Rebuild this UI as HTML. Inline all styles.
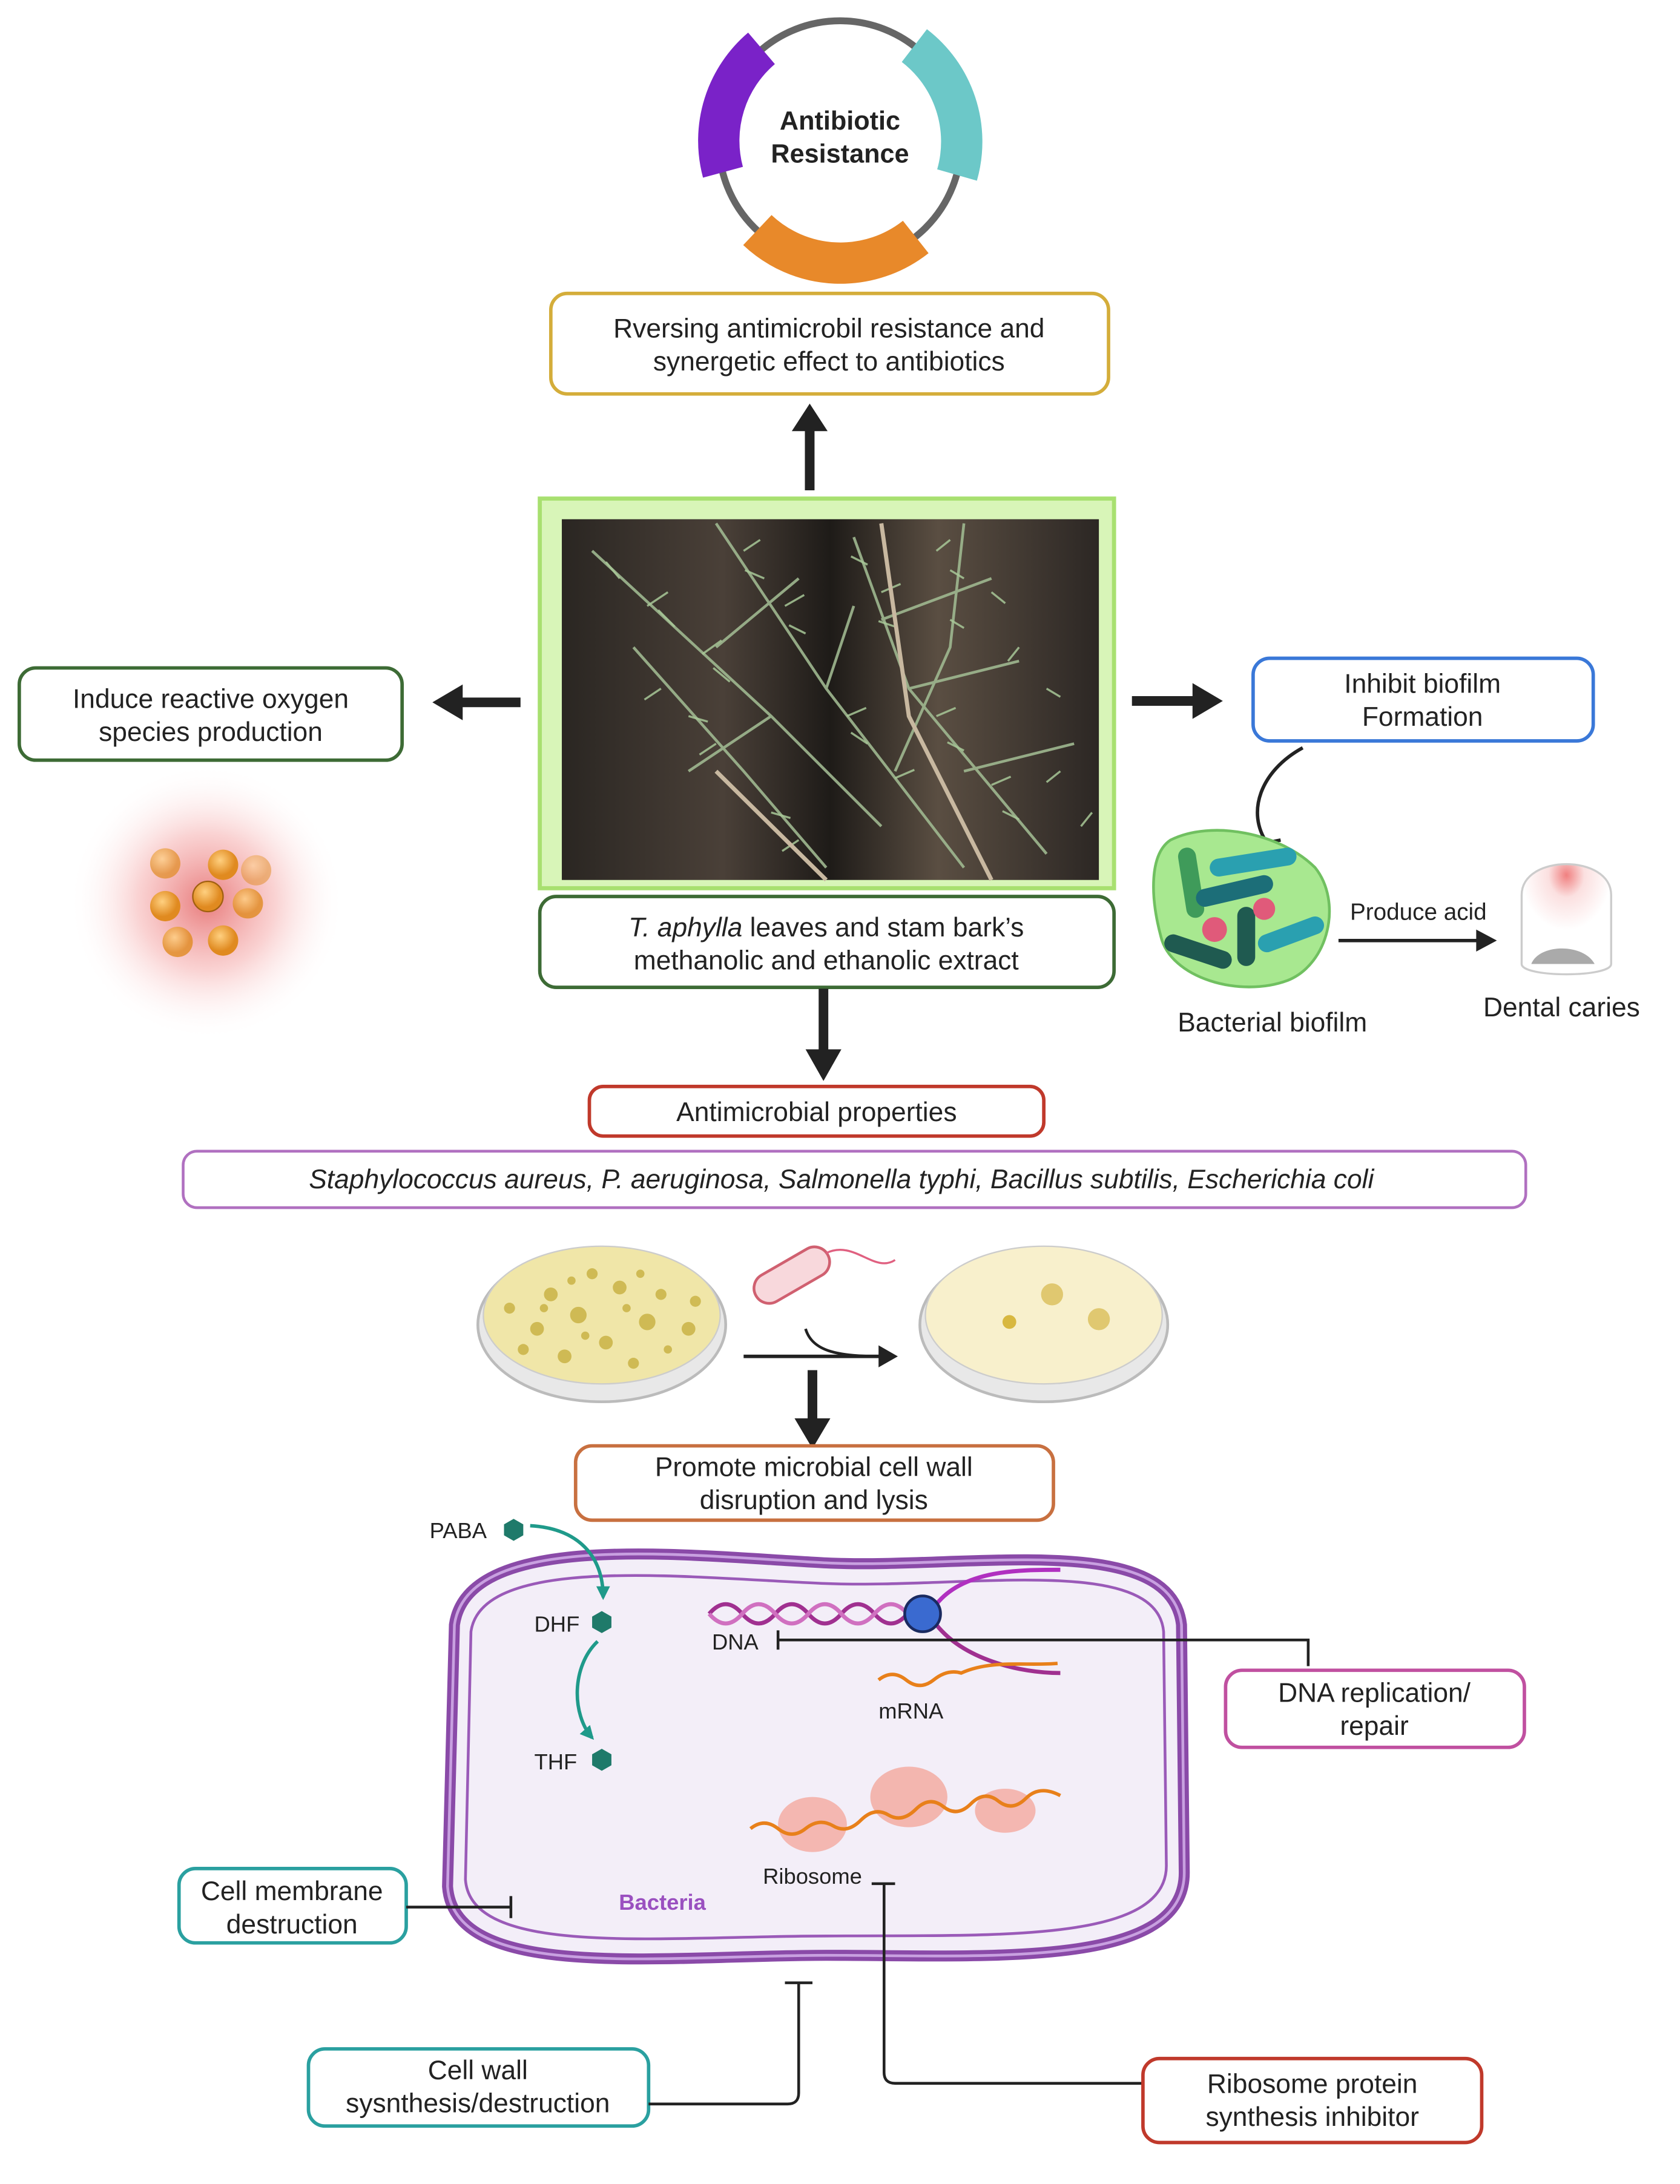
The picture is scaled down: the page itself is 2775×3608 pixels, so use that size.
<!DOCTYPE html>
<html><head><meta charset="utf-8"><style>
html,body{margin:0;padding:0;background:#fff}
svg{display:block}
text{font-family:"Liberation Sans",sans-serif;fill:#222}
</style></head><body>
<svg width="2775" height="3608" viewBox="0 0 1220 1586" xmlns="http://www.w3.org/2000/svg">
<defs>
<marker id="aht" markerWidth="10" markerHeight="10" refX="8" refY="5" orient="auto" markerUnits="userSpaceOnUse"><path d="M0,0 L10,5 L0,10 z" fill="#1f9a8a"/></marker>
<radialGradient id="glow"><stop offset="0" stop-color="#e05050" stop-opacity="0.75"/><stop offset="0.5" stop-color="#f08080" stop-opacity="0.35"/><stop offset="1" stop-color="#fff" stop-opacity="0"/></radialGradient>
<radialGradient id="ball" cx="0.4" cy="0.35"><stop offset="0" stop-color="#ffd080"/><stop offset="1" stop-color="#e08a20"/></radialGradient>
<linearGradient id="bark" x1="0" x2="1"><stop offset="0" stop-color="#2a2622"/><stop offset="0.3" stop-color="#4a4038"/><stop offset="0.5" stop-color="#1e1b18"/><stop offset="0.7" stop-color="#5a4e42"/><stop offset="1" stop-color="#2c2724"/></linearGradient>
<radialGradient id="tooth" cx="0.5" cy="0.1"><stop offset="0" stop-color="#f08080"/><stop offset="0.4" stop-color="#fbe0e0"/><stop offset="1" stop-color="#fff"/></radialGradient>
</defs>

<circle cx="610" cy="103" r="88" fill="none" stroke="#666" stroke-width="5"/>
<path d="M553,35 A88,88 0 0 0 525,125" fill="none" stroke="#7a22c8" stroke-width="30"/>
<path d="M664,33 A88,88 0 0 1 695,127" fill="none" stroke="#6cc8c8" stroke-width="30"/>
<path d="M550,167 A88,88 0 0 0 665,172" fill="none" stroke="#e8892a" stroke-width="30"/>
<text x="610" y="94" font-size="19" font-weight="bold" text-anchor="middle">Antibiotic</text>
<text x="610" y="118" font-size="19" font-weight="bold" text-anchor="middle">Resistance</text>

<g font-size="19.5">
<rect x="400" y="213" width="405" height="73" rx="12" fill="#fff" stroke="#d4ad3a" stroke-width="2.5"/>
<text x="602" y="245" text-anchor="middle">Rversing antimicrobil resistance and</text>
<text x="602" y="269" text-anchor="middle">synergetic effect to antibiotics</text>
</g>
<line x1="588" y1="356" x2="588" y2="305" stroke="#222" stroke-width="7"/>
<path d="M575,313 L588,293 L601,313 z" fill="#222"/>

<rect x="392" y="362" width="417" height="283" fill="#d8f5b8" stroke="#a8e070" stroke-width="3"/>
<rect x="408" y="377" width="390" height="262" fill="url(#bark)"/>
<g stroke="#9fb890" stroke-width="2" fill="none" opacity="0.9">
<path d="M430,400 L560,520 L640,600"/><path d="M520,380 L600,500 L700,630"/><path d="M620,390 L660,500 L760,620"/>
<path d="M700,380 L690,470 L650,560"/><path d="M460,470 L540,560 L600,630"/><path d="M580,420 L520,470"/><path d="M640,450 L720,420"/>
<path d="M560,520 L500,560"/><path d="M660,500 L740,480"/><path d="M600,500 L620,440"/><path d="M700,560 L780,540"/>
</g>
<g stroke="#a8c898" stroke-width="1.5" fill="none" opacity="0.85">
<path d="M450,420 l-10,-12 M470,440 l15,-10 M490,455 l-12,-12 M510,475 l14,-10 M530,495 l-12,-10"/>
<path d="M540,400 l12,-8 M555,420 l-14,-6 M570,440 l14,-8 M585,460 l-12,-6 M615,520 l14,-6 M630,540 l-12,-8 M650,565 l14,-6"/>
<path d="M630,410 l-12,-6 M640,430 l14,-6 M650,455 l-12,-4 M680,520 l14,-6 M700,545 l-12,-6 M720,570 l14,-6 M740,595 l-12,-6"/>
<path d="M480,500 l-12,8 M500,520 l14,4 M520,540 l-12,8 M560,590 l14,4 M580,610 l-12,8"/>
<path d="M720,430 l10,8 M740,470 l-8,10 M760,500 l10,6 M770,560 l-10,8 M785,600 l8,-10"/>
<path d="M680,400 l10,-8 M700,420 l-10,-6 M690,450 l10,6"/>
</g>
<g stroke="#c8b8a0" stroke-width="3" fill="none"><path d="M640,380 L660,520 L720,639"/><path d="M520,560 L600,639"/></g>

<g font-size="19.5">
<rect x="14" y="485" width="278" height="67" rx="12" fill="#fff" stroke="#3d6b35" stroke-width="2.5"/>
<text x="153" y="514" text-anchor="middle">Induce reactive oxygen</text>
<text x="153" y="538" text-anchor="middle">species production</text>
</g>
<line x1="378" y1="510" x2="330" y2="510" stroke="#222" stroke-width="7"/>
<path d="M336,497 L314,510 L336,523 z" fill="#222"/>
<circle cx="150" cy="655" r="100" fill="url(#glow)"/>
<g fill="url(#ball)">
<circle cx="120" cy="627" r="11" opacity="0.7"/><circle cx="162" cy="628" r="11"/><circle cx="186" cy="632" r="11" opacity="0.5"/>
<circle cx="120" cy="658" r="11"/><circle cx="151" cy="651" r="11" stroke="#a06010"/><circle cx="180" cy="656" r="11" opacity="0.8"/>
<circle cx="129" cy="684" r="11" opacity="0.8"/><circle cx="162" cy="683" r="11"/>
</g>

<line x1="822" y1="509" x2="870" y2="509" stroke="#222" stroke-width="7"/>
<path d="M866,496 L888,509 L866,522 z" fill="#222"/>
<g font-size="19.5">
<rect x="910" y="478" width="247" height="60" rx="12" fill="#fff" stroke="#3a78d8" stroke-width="2.5"/>
<text x="1033" y="503" text-anchor="middle">Inhibit biofilm</text>
<text x="1033" y="527" text-anchor="middle">Formation</text>
</g>
<path d="M946,543 C915,560 905,590 920,612" fill="none" stroke="#222" stroke-width="2.5"/>
<line x1="910" y1="614" x2="930" y2="610" stroke="#222" stroke-width="2.5"/>
<path d="M850,610 C880,595 930,605 955,630 C975,655 965,700 935,712 C900,725 850,710 843,680 C835,650 835,620 850,610z" fill="#a8e890" stroke="#70c060" stroke-width="2"/>
<g stroke-linecap="round" stroke-width="13" fill="none">
<line x1="862" y1="622" x2="868" y2="660" stroke="#3f9b5a"/><line x1="885" y1="630" x2="935" y2="622" stroke="#2aa0b0"/>
<line x1="875" y1="652" x2="918" y2="642" stroke="#1c6e78"/><line x1="852" y1="685" x2="888" y2="697" stroke="#1f5a50"/>
<line x1="905" y1="665" x2="905" y2="695" stroke="#1f5a50"/><line x1="920" y1="685" x2="955" y2="672" stroke="#2aa0b0"/>
</g>
<circle cx="882" cy="675" r="9" fill="#e05a7a"/><circle cx="918" cy="660" r="8" fill="#e05a7a"/>
<text x="1030" y="668" font-size="17" text-anchor="middle">Produce acid</text>
<line x1="972" y1="683" x2="1075" y2="683" stroke="#222" stroke-width="2.5"/>
<path d="M1072,675 L1087,683 L1072,691 z" fill="#222"/>
<path d="M1105,650 C1105,620 1170,620 1170,650 L1170,700 C1170,710 1105,710 1105,700 z" fill="url(#tooth)" stroke="#ccc" stroke-width="1.5"/>
<path d="M1112,700 C1118,685 1150,685 1158,700 z" fill="#aaa"/>
<text x="924" y="749" font-size="19.5" text-anchor="middle">Bacterial biofilm</text>
<text x="1134" y="738" font-size="19.5" text-anchor="middle">Dental caries</text>

<g font-size="19.5">
<rect x="392" y="651" width="417" height="66" rx="12" fill="#fff" stroke="#3d6b35" stroke-width="2.5"/>
<text x="600" y="680" text-anchor="middle"><tspan font-style="italic">T. aphylla</tspan> leaves and stam bark’s</text>
<text x="600" y="704" text-anchor="middle">methanolic   and ethanolic extract</text>
</g>
<line x1="598" y1="718" x2="598" y2="767" stroke="#222" stroke-width="7"/>
<path d="M585,762 L598,785 L611,762 z" fill="#222"/>

<rect x="428" y="789" width="330" height="36" rx="10" fill="#fff" stroke="#c0392b" stroke-width="2.5"/>
<text x="593" y="814" font-size="19.5" text-anchor="middle">Antimicrobial properties</text>
<rect x="133" y="836" width="975" height="41" rx="10" fill="#fff" stroke="#b070c0" stroke-width="2"/>
<text x="611" y="863" font-size="19.5" font-style="italic" text-anchor="middle">Staphylococcus aureus, P. aeruginosa, Salmonella typhi, Bacillus subtilis, Escherichia coli</text>

<ellipse cx="437" cy="962" rx="90" ry="56" fill="#e8e8e8" stroke="#bbb" stroke-width="2"/>
<ellipse cx="437" cy="955" rx="86" ry="50" fill="#f0e6a8" stroke="#ccc"/>
<g fill="#c8b040" opacity="0.8">
<circle cx="400" cy="940" r="5"/><circle cx="420" cy="955" r="6"/><circle cx="450" cy="935" r="5"/><circle cx="470" cy="960" r="6"/><circle cx="390" cy="965" r="5"/><circle cx="440" cy="975" r="5"/><circle cx="480" cy="940" r="4"/><circle cx="500" cy="965" r="5"/><circle cx="370" cy="950" r="4"/><circle cx="410" cy="985" r="5"/><circle cx="460" cy="990" r="4"/><circle cx="430" cy="925" r="4"/><circle cx="505" cy="945" r="4"/><circle cx="380" cy="980" r="4"/>
<circle cx="415" cy="930" r="3"/><circle cx="455" cy="950" r="3"/><circle cx="485" cy="980" r="3"/><circle cx="425" cy="970" r="3"/><circle cx="395" cy="950" r="3"/><circle cx="465" cy="925" r="3"/>
</g>
<ellipse cx="758" cy="962" rx="90" ry="56" fill="#e8e8e8" stroke="#bbb" stroke-width="2"/>
<ellipse cx="758" cy="955" rx="86" ry="50" fill="#f8f0cc" stroke="#ccc"/>
<circle cx="764" cy="940" r="8" fill="#e0c870"/><circle cx="798" cy="958" r="8" fill="#e0c870"/><circle cx="733" cy="960" r="5" fill="#d8b840"/>
<rect x="545" y="915" width="60" height="22" rx="11" transform="rotate(-30 575 926)" fill="#f8d8dc" stroke="#d06070" stroke-width="2"/>
<path d="M600,910 C620,900 635,925 650,915" fill="none" stroke="#e06080" stroke-width="1.5"/>
<path d="M585,965 C590,982 610,985 640,985" fill="none" stroke="#222" stroke-width="2"/>
<line x1="540" y1="985" x2="640" y2="985" stroke="#222" stroke-width="2.5"/>
<path d="M638,977 L652,985 L638,993 z" fill="#222"/>
<line x1="590" y1="995" x2="590" y2="1035" stroke="#222" stroke-width="7"/>
<path d="M577,1030 L590,1052 L603,1030 z" fill="#222"/>
<g font-size="19.5">
<rect x="418" y="1050" width="347" height="54" rx="12" fill="#fff" stroke="#c87040" stroke-width="2.5"/>
<text x="591" y="1072" text-anchor="middle">Promote microbial cell wall</text>
<text x="591" y="1096" text-anchor="middle">disruption and lysis</text>
</g>

<path d="M330,1180 C340,1110 500,1130 600,1135 C700,1140 850,1110 858,1180 L860,1360 C860,1430 720,1420 600,1420 C480,1420 330,1440 325,1370 z" fill="#f3eef8" stroke="#8a4aa8" stroke-width="8"/>
<path d="M330,1180 C340,1110 500,1130 600,1135 C700,1140 850,1110 858,1180 L860,1360 C860,1430 720,1420 600,1420 C480,1420 330,1440 325,1370 z" fill="none" stroke="#c8a0e0" stroke-width="2"/>
<path d="M342,1185 C350,1128 500,1146 600,1150 C700,1154 840,1128 845,1185 L847,1355 C847,1412 720,1405 600,1406 C480,1406 342,1422 338,1365 z" fill="none" stroke="#9a5ab8" stroke-width="2"/>

<text x="312" y="1117" font-size="16">PABA</text>
<path d="M373,1103 l7,4 v8 l-7,4 l-7,-4 v-8 z" fill="#1f7a6a"/>
<path d="M385,1108 C420,1110 438,1130 438,1160" fill="none" stroke="#1f9a8a" stroke-width="2.5" marker-end="url(#aht)"/>
<text x="388" y="1185" font-size="16">DHF</text>
<path d="M437,1170 l7,4 v8 l-7,4 l-7,-4 v-8 z" fill="#1f7a6a"/>
<path d="M434,1192 C415,1210 415,1245 430,1262" fill="none" stroke="#1f9a8a" stroke-width="2.5" marker-end="url(#aht)"/>
<text x="388" y="1285" font-size="16">THF</text>
<path d="M437,1270 l7,4 v8 l-7,4 l-7,-4 v-8 z" fill="#1f7a6a"/>

<path d="M515,1172 Q527,1158 539,1172 T563,1172 T587,1172 T611,1172 T635,1172 T659,1172" fill="none" stroke="#a03090" stroke-width="3"/>
<path d="M515,1172 Q527,1186 539,1172 T563,1172 T587,1172 T611,1172 T635,1172 T659,1172" fill="none" stroke="#d070c0" stroke-width="3"/>
<path d="M680,1165 C700,1140 740,1140 770,1140" fill="none" stroke="#b030c0" stroke-width="3"/>
<path d="M680,1180 C700,1205 740,1215 770,1215" fill="none" stroke="#a03090" stroke-width="3"/>
<path d="M638,1220 Q648,1212 658,1220 T678,1220 T698,1215 C720,1205 745,1210 768,1208" fill="none" stroke="#e8801a" stroke-width="2.5"/>
<circle cx="670" cy="1172" r="13" fill="#3a6ad0" stroke="#1a2a60" stroke-width="2"/>
<text x="517" y="1198" font-size="16">DNA</text>
<text x="638" y="1248" font-size="16">mRNA</text>
<polyline points="950,1210 950,1191 565,1191" fill="none" stroke="#222" stroke-width="2"/>
<line x1="565" y1="1184" x2="565" y2="1198" stroke="#222" stroke-width="2"/>
<g font-size="19.5">
<rect x="890" y="1213" width="217" height="56" rx="12" fill="#fff" stroke="#c050a0" stroke-width="2.5"/>
<text x="998" y="1236" text-anchor="middle">DNA replication/</text>
<text x="998" y="1260" text-anchor="middle">repair</text>
</g>

<g fill="#f4b0a8" opacity="0.9">
<ellipse cx="590" cy="1325" rx="25" ry="20"/><ellipse cx="660" cy="1305" rx="28" ry="22"/><ellipse cx="730" cy="1315" rx="22" ry="16"/>
</g>
<path d="M545,1328 Q555,1320 565,1328 T585,1328 T605,1326 T625,1322 T645,1318 T665,1314 T685,1312 T705,1310 T725,1308 T745,1306 T770,1304" fill="none" stroke="#e8801a" stroke-width="2.5"/>
<text x="590" y="1368" font-size="16" text-anchor="middle">Ribosome</text>
<text x="481" y="1387" font-size="16" font-weight="bold" text-anchor="middle" style="fill:#9a50c0">Bacteria</text>

<g font-size="19.5">
<rect x="130" y="1357" width="165" height="54" rx="12" fill="#fff" stroke="#2aa0a0" stroke-width="2.5"/>
<text x="212" y="1380" text-anchor="middle">Cell membrane</text>
<text x="212" y="1404" text-anchor="middle">destruction</text>
</g>
<line x1="295" y1="1385" x2="371" y2="1385" stroke="#222" stroke-width="2"/>
<line x1="371" y1="1377" x2="371" y2="1393" stroke="#222" stroke-width="2"/>

<g font-size="19.5">
<rect x="224" y="1488" width="247" height="56" rx="12" fill="#fff" stroke="#2aa0a0" stroke-width="2.5"/>
<text x="347" y="1510" text-anchor="middle">Cell wall</text>
<text x="347" y="1534" text-anchor="middle">sysnthesis/destruction</text>
</g>
<path d="M471,1528 L572,1528 Q580,1528 580,1520 L580,1440" fill="none" stroke="#222" stroke-width="2"/>
<line x1="570" y1="1440" x2="590" y2="1440" stroke="#222" stroke-width="2"/>

<line x1="633" y1="1368" x2="650" y2="1368" stroke="#222" stroke-width="2"/>
<path d="M642,1368 L642,1505 Q642,1513 650,1513 L830,1513" fill="none" stroke="#222" stroke-width="2"/>
<g font-size="19.5">
<rect x="830" y="1495" width="246" height="61" rx="12" fill="#fff" stroke="#c0392b" stroke-width="2.5"/>
<text x="953" y="1520" text-anchor="middle">Ribosome protein</text>
<text x="953" y="1544" text-anchor="middle">synthesis inhibitor</text>
</g>
</svg>
</body></html>
